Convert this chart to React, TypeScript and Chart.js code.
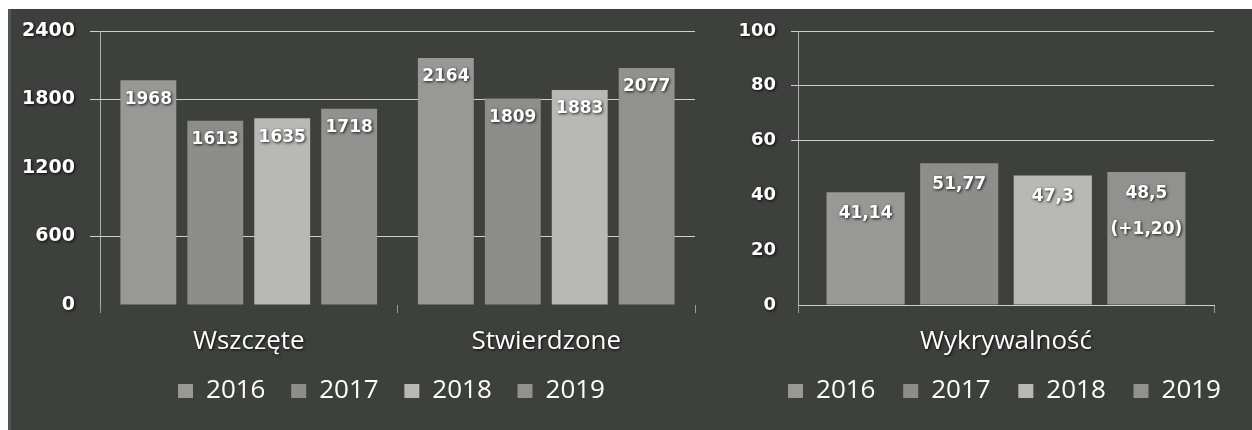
import React, { useEffect, useRef } from "react";
import { Chart, registerables } from "chart.js";

Chart.register(...registerables);

// ---------- data ----------
const years = ["2016", "2017", "2018", "2019"];

const leftCategories = ["Wszczęte", "Stwierdzone"];
const values2016 = [1968, 2164];
const values2017 = [1613, 1809];
const values2018 = [1635, 1883];
const values2019 = [1718, 2077];
const leftMax = 2400;
const leftStep = 600;
const leftGridShown = [600, 1800, 2400];

const rightCategories = ["Wykrywalność"];
const detection2016 = [41.14];
const detection2017 = [51.77];
const detection2018 = [47.3];
const detection2019 = [48.5];
const detectionLabels = [["41,14"], ["51,77"], ["47,3"], ["48,5", "(+1,20)"]];
const rightMax = 100;
const rightStep = 20;
const rightGridShown = [60, 80, 100];

// ---------- style ----------
const BG = "#3e403d";
const yearColors = ["#989896", "#8d8d8b", "#b8b8b6", "#91918f"];
const GRID = "#cfcfcf";
const AXIS = "#b0b0b0";
const TICK_FONT = "'DejaVu Sans', Verdana, sans-serif";
const TEXT_FONT = "'Open Sans', 'Noto Sans', sans-serif";
const CAT_SIZE = 26;
const LEGEND_SIZE = 26;

const shadowPlugin = {
  id: "shadowText",
  afterUpdate(chart: any) {
    Object.values(chart.scales).forEach((s: any) => {
      if (s.__wrapped) return;
      const orig = s.drawLabels.bind(s);
      s.drawLabels = (area: any) => {
        const c = chart.ctx;
        c.save();
        c.shadowColor = "rgba(0,0,0,0.85)";
        c.shadowBlur = 3;
        c.shadowOffsetX = 1;
        c.shadowOffsetY = 1;
        orig(area);
        c.restore();
      };
      s.__wrapped = true;
    });
  },
};

function makeLabelPlugin(getLines: (d: number, i: number) => string[], offset: number, size: number) {
  return {
    id: "barValueLabels",
    afterDatasetsDraw(chart: any) {
      const c = chart.ctx;
      c.save();
      c.font = `bold ${size}px ${TICK_FONT}`;
      c.fillStyle = "#ffffff";
      c.textAlign = "center";
      c.textBaseline = "middle";
      c.shadowColor = "rgba(0,0,0,0.85)";
      c.shadowBlur = 3;
      c.shadowOffsetX = 1;
      c.shadowOffsetY = 1;
      chart.data.datasets.forEach((_: any, d: number) => {
        const meta = chart.getDatasetMeta(d);
        meta.data.forEach((el: any, i: number) => {
          const lines = getLines(d, i);
          lines.forEach((t, k) => {
            c.fillText(t, el.x, el.y + offset + k * 36);
          });
        });
      });
      c.restore();
    },
  };
}

function baseOptions(cfg: {
  max: number;
  step: number;
  shown: number[];
  yWidth: number;
  yTickLen: number;
  yTickFont: number;
  labelOffset: number;
  xHeight: number;
  xBorder: boolean;
  legendPad: number;
  rightSpacer: number;
  padding: any;
}) {
  return {
    responsive: false,
    devicePixelRatio: 1,
    animation: false as const,
    layout: { padding: cfg.padding },
    datasets: {
      bar: { categoryPercentage: 0.9, barPercentage: 0.835, borderWidth: 0 },
    },
    plugins: {
      tooltip: { enabled: false },
      legend: {
        position: "bottom" as const,
        fullSize: true,
        labels: {
          color: "#ffffff",
          boxWidth: 15,
          boxHeight: 14,
          padding: cfg.legendPad,
          font: { family: TEXT_FONT, size: LEGEND_SIZE },
        },
      },
    },
    scales: {
      x: {
        afterFit: (s: any) => {
          s.height = cfg.xHeight;
        },
        grid: {
          drawOnChartArea: false,
          drawTicks: true,
          tickLength: 8,
          color: "#9a9a9a",
        },
        border: { display: cfg.xBorder, color: GRID, width: 1 },
        ticks: {
          color: "#ffffff",
          mirror: true,
          padding: -(cfg.labelOffset + CAT_SIZE / 2),
          font: { family: TEXT_FONT, size: CAT_SIZE, lineHeight: 1 },
        },
      },
      y: {
        min: 0,
        max: cfg.max,
        afterFit: (s: any) => {
          s.width = cfg.yWidth;
        },
        grid: {
          color: (ctx: any) => (ctx.tick && cfg.shown.includes(ctx.tick.value) ? GRID : "rgba(0,0,0,0)"),
          tickLength: cfg.yTickLen,
          lineWidth: 1,
        },
        border: { display: true, color: AXIS, width: 1 },
        ticks: {
          stepSize: cfg.step,
          color: "#ffffff",
          padding: 15,
          font: { family: TICK_FONT, size: cfg.yTickFont, weight: "bold" as const, lineHeight: 0.7 },
          callback: (v: any) => String(v),
        },
      },
      spacer: {
        type: "linear" as const,
        position: "right" as const,
        display: true,
        afterFit: (s: any) => {
          s.width = cfg.rightSpacer;
        },
        grid: { display: false, drawTicks: false },
        border: { display: false },
        ticks: { display: false },
      },
    },
  };
}

export default function App() {
  const leftRef = useRef<HTMLCanvasElement | null>(null);
  const rightRef = useRef<HTMLCanvasElement | null>(null);

  useEffect(() => {
    const leftSeries = [values2016, values2017, values2018, values2019];
    const left = new Chart(leftRef.current as HTMLCanvasElement, {
      type: "bar",
      data: {
        labels: leftCategories,
        datasets: years.map((y, i) => ({
          label: y,
          data: leftSeries[i],
          backgroundColor: yearColors[i],
          borderWidth: 0,
        })),
      },
      options: baseOptions({
        max: leftMax,
        step: leftStep,
        shown: leftGridShown,
        yWidth: 80,
        yTickLen: 10,
        yTickFont: 19,
        labelOffset: 37,
        xHeight: 47.3,
        xBorder: false,
        legendPad: 25.7,
        rightSpacer: 68,
        padding: { top: 22, left: 12, right: 5, bottom: 16 },
      }) as any,
      plugins: [shadowPlugin, makeLabelPlugin((d, i) => [String(leftSeries[d][i])], 19, 17)],
    });

    const rightSeries = [detection2016, detection2017, detection2018, detection2019];
    const right = new Chart(rightRef.current as HTMLCanvasElement, {
      type: "bar",
      data: {
        labels: rightCategories,
        datasets: years.map((y, i) => ({
          label: y,
          data: rightSeries[i],
          backgroundColor: yearColors[i],
          borderWidth: 0,
        })),
      },
      options: baseOptions({
        max: rightMax,
        step: rightStep,
        shown: rightGridShown,
        yWidth: 62,
        yTickLen: 7,
        yTickFont: 18,
        labelOffset: 37,
        xHeight: 45.3,
        xBorder: true,
        legendPad: 27.7,
        rightSpacer: 59,
        padding: { top: 22, left: 36, right: 1, bottom: 16 },
      }) as any,
      plugins: [shadowPlugin, makeLabelPlugin((d) => detectionLabels[d], 21, 17)],
    });

    return () => {
      left.destroy();
      right.destroy();
    };
  }, []);

  return (
    <div
      style={{
        position: "absolute",
        left: 8,
        top: 9,
        width: 1244,
        height: 421,
        background: BG,
        borderLeft: "3px solid #4d5854",
        boxSizing: "border-box",
        overflow: "hidden",
      }}
    >
      <canvas ref={leftRef} width={760} height={421} style={{ position: "absolute", left: -3, top: 0 }} />
      <canvas ref={rightRef} width={574} height={421} style={{ position: "absolute", left: 689, top: 0 }} />
    </div>
  );
}
